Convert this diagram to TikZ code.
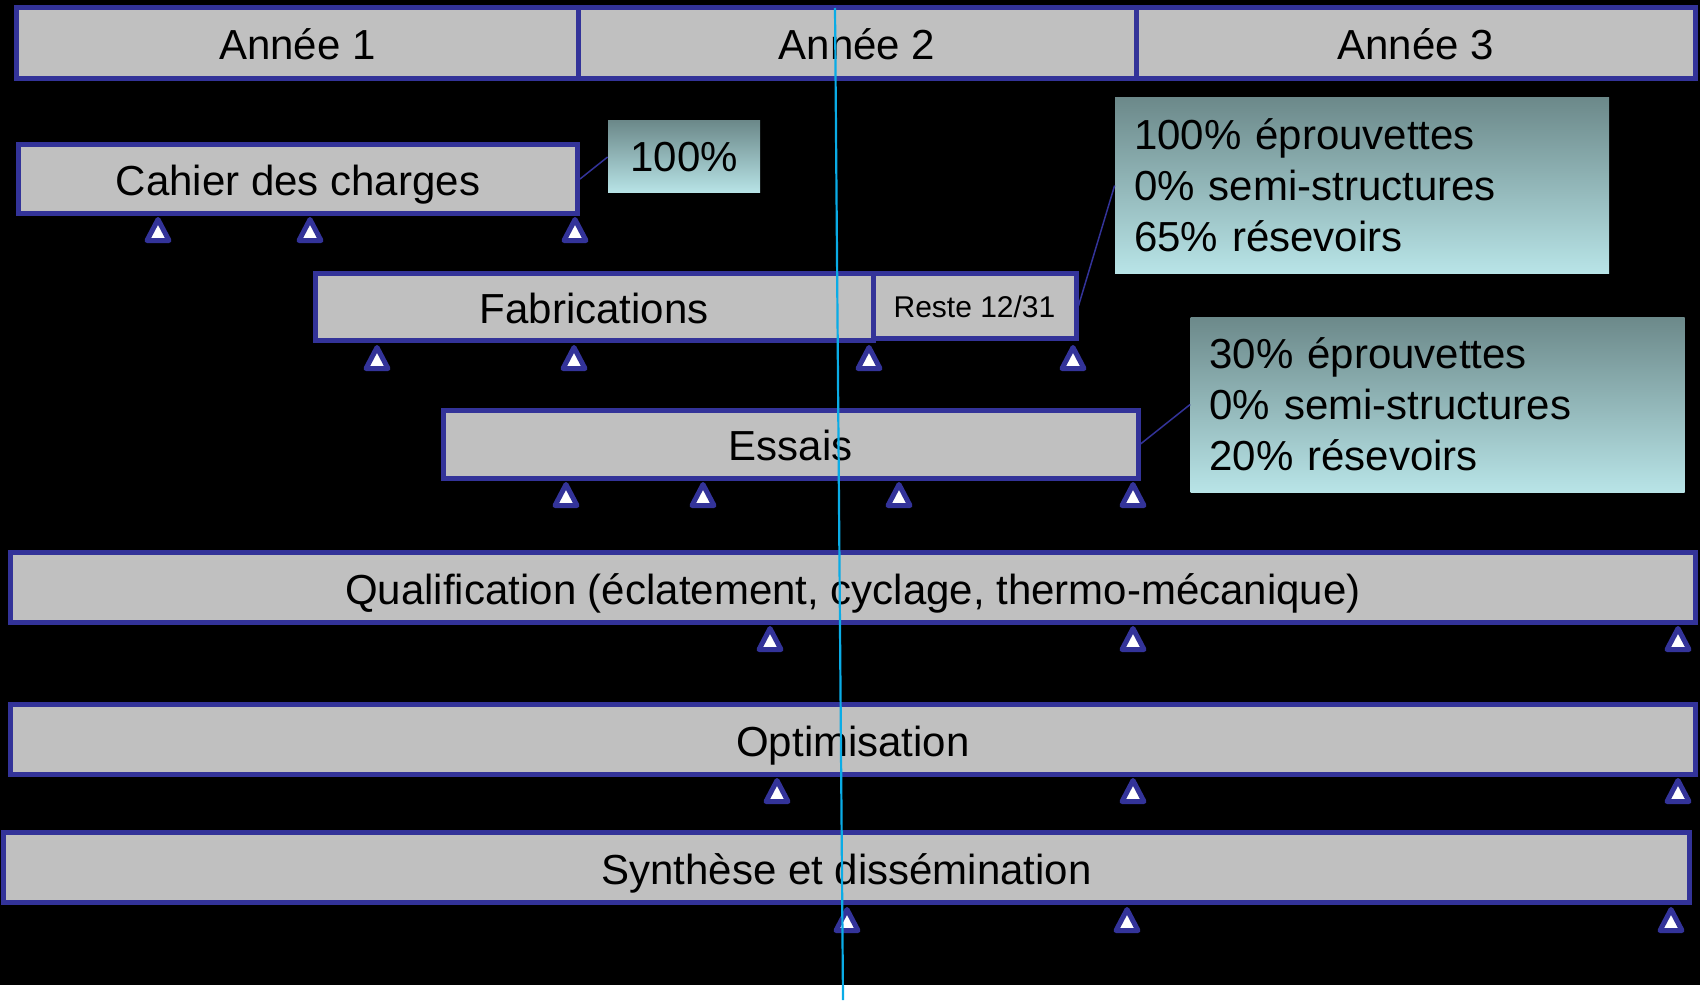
\documentclass[tikz,border=0pt]{standalone}
\usepackage{fontspec}
\setmainfont{Liberation Sans}
\definecolor{bargray}{RGB}{192,192,192}
\definecolor{barblue}{RGB}{51,51,153}
\definecolor{caltop}{RGB}{108,137,138}
\definecolor{calbot}{RGB}{184,228,231}
\definecolor{cyanl}{RGB}{10,172,230}
\begin{document}
\begin{tikzpicture}[x=0.5pt,y=-0.5pt,
  bar/.style={draw=barblue, fill=bargray, line width=2.5pt, inner sep=0pt,
    font=\fontsize{21}{25.5}\selectfont, text=black,
    text height=18pt, text depth=1.5pt},
  smallbar/.style={bar, font=\fontsize{15}{18}\selectfont,
    text height=13pt, text depth=1pt},
  callout/.style={inner sep=0pt, top color=caltop, bottom color=calbot,
    font=\fontsize{21}{25.5}\selectfont, text=black},
  calltext/.style={callout, text width=228pt, align=left,
    minimum width=247pt, minimum height=87.5pt},
  link/.style={draw=barblue, line width=0.75pt},
  ms/.pic={\draw[draw=barblue, fill=white, line width=2.5pt, line join=round]
    (0,0) -- (11,21) -- (-11,21) -- cycle;},
  cyanline/.style={draw=cyanl, line width=1.1pt}]
\useasboundingbox (0,0) rectangle (1700,1000);
\fill[black] (0,0) rectangle (1700,985);
\fill[white] (0,985) rectangle (1700,1000);

% year header
\node[bar, minimum width=280.75pt, minimum height=35.5pt] (y1) at (297.25,43) {Année 1};
\node[bar, minimum width=279pt, minimum height=35.5pt] (y2) at (857,43) {Année 2};
\node[bar, minimum width=279.75pt, minimum height=35.5pt] (y3) at (1415.75,43) {Année 3};

% tasks
\node[bar, minimum width=279.5pt, minimum height=34.5pt] (cdc) at (298,179) {Cahier des charges};
\node[callout, minimum width=76pt, minimum height=36pt] (c1) at (684,157) {100\%};

\node[bar, minimum width=278.75pt, minimum height=33.5pt] (fab) at (594.25,307) {Fabrications};
\node[smallbar, minimum width=101.5pt, minimum height=32.25pt] (reste) at (974.5,305.75) {Reste 12/31};
\node[calltext] (c2) at (1362,185.5) {100\% éprouvettes\\0\% semi-structures\\65\% résevoirs};

\node[bar, minimum width=347.25pt, minimum height=34pt] (ess) at (790.75,444) {Essais};
\node[calltext] (c3) at (1437.5,404.5) {30\% éprouvettes\\0\% semi-structures\\20\% résevoirs};

\node[bar, minimum width=842.5pt, minimum height=35pt] (qual) at (853,587.5) {Qualification (éclatement, cyclage, thermo-mécanique)};
\node[bar, minimum width=842.5pt, minimum height=35pt] (opt) at (853,739.5) {Optimisation};
\node[bar, minimum width=843pt, minimum height=35pt] (syn) at (846.5,867.5) {Synthèse et dissémination};

% connectors
\draw[link] (cdc.east) -- (c1.west);
\draw[link] (reste.east) -- (c2.west);
\draw[link] (ess.east) -- (c3.west);

% milestones
\foreach \mx in {158,310,575} \pic at (\mx,219.5) {ms};
\foreach \mx in {377,574,869,1073} \pic at (\mx,347.5) {ms};
\foreach \mx in {566,703,899,1133} \pic at (\mx,484.5) {ms};
\foreach \mx in {770,1133,1678} \pic at (\mx,628.5) {ms};
\foreach \mx in {777,1133,1678} \pic at (\mx,780.5) {ms};
\foreach \mx in {847,1127,1671} \pic at (\mx,909.5) {ms};

% today line
\coordinate (ct) at (835,8);
\coordinate (cb) at (843,1000);
\draw[cyanline] (ct) -- (cb);
\end{tikzpicture}
\end{document}
